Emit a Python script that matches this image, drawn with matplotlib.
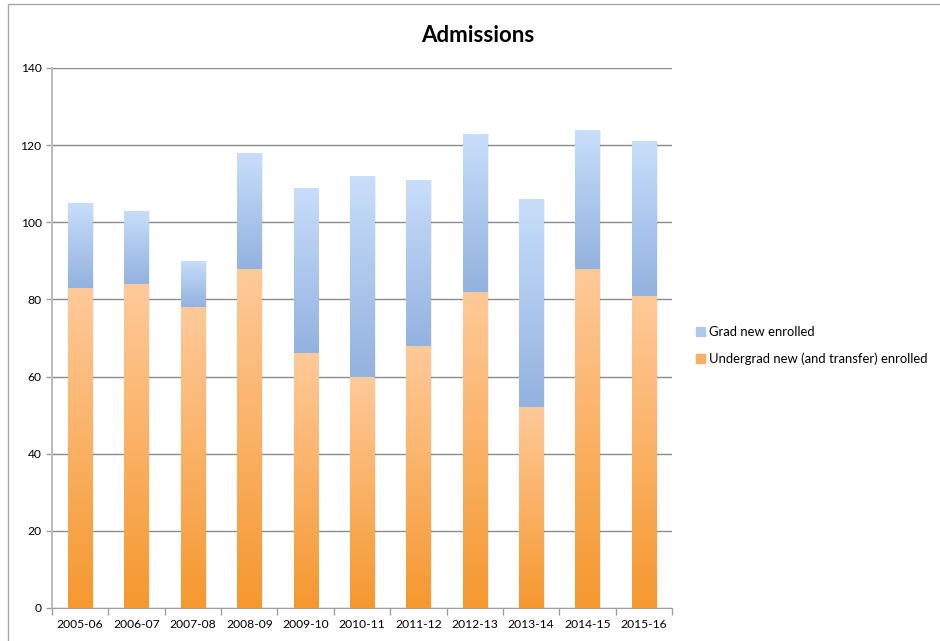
import matplotlib
matplotlib.use("Agg")
import matplotlib.pyplot as plt
import matplotlib.patches as mpatches
from matplotlib.colors import LinearSegmentedColormap
import numpy as np

plt.rcParams['font.family'] = ['Lato', 'DejaVu Sans']

years = ['2005-06', '2006-07', '2007-08', '2008-09', '2009-10', '2010-11',
         '2011-12', '2012-13', '2013-14', '2014-15', '2015-16']
undergrad = [83, 84, 78, 88, 66, 60, 68, 82, 52, 88, 81]
totals = [105, 103, 90, 118, 109, 112, 111, 123, 106, 124, 121]
grad = [t - u for t, u in zip(totals, undergrad)]

orange_cmap = LinearSegmentedColormap.from_list('og', ['#F5982F', '#FFCA9A'])
blue_cmap = LinearSegmentedColormap.from_list('bl', ['#93B2DF', '#C8DEFB'])
grad_img = np.linspace(0, 1, 256).reshape(-1, 1)

fig = plt.figure(figsize=(9.4, 6.41), dpi=100)
ax = fig.add_axes([52 / 940, 1 - 608 / 641, 620 / 940, 540 / 641])

x = np.arange(len(years))
w = 0.43


def gradient_bar(xc, bottom, height, cmap):
    bar = ax.bar(xc, height, w, bottom=bottom, color='none', edgecolor='none', zorder=3)[0]
    im = ax.imshow(grad_img, cmap=cmap, origin='lower', aspect='auto',
                   extent=[xc - w / 2, xc + w / 2, bottom, bottom + height], zorder=3)
    im.set_clip_path(bar)
    # faint shadow
    ax.bar(xc + 0.03, height, w, bottom=bottom, color='#000000', alpha=0.06,
           edgecolor='none', zorder=2)


for i in range(len(years)):
    gradient_bar(x[i], 0, undergrad[i], orange_cmap)
    gradient_bar(x[i], undergrad[i], grad[i], blue_cmap)

ax.set_xlim(-0.5, len(years) - 0.5)
ax.set_ylim(0, 140)
ax.set_yticks(range(0, 141, 20))
ax.set_xticks(x)
ax.set_xticklabels(years, fontsize=8.7)
ax.tick_params(axis='y', labelsize=8.7, length=4, color='#A0A0A0', width=1)
ax.tick_params(axis='x', length=0, pad=8)
ax.set_xticks(np.arange(-0.5, len(years), 1), minor=True)
ax.tick_params(axis='x', which='minor', length=5, color='#A0A0A0', width=1)
ax.grid(axis='y', color='#8C8C8C', linewidth=1, zorder=1)
ax.set_axisbelow(True)
for s in ['top', 'right']:
    ax.spines[s].set_visible(False)
ax.spines['left'].set_color('#BDBDBD')
ax.spines['left'].set_linewidth(1.5)
ax.spines['bottom'].set_color('#A0A0A0')

fig.text(478 / 940, 1 - 36 / 641, 'Admissions', ha='center', va='center',
         fontsize=16, fontweight='bold')

handles = [mpatches.Patch(color='#AFC9EE', label='Grad new enrolled'),
           mpatches.Patch(color='#FBAE66', label='Undergrad new (and transfer) enrolled')]
fig.legend(handles=handles, loc='upper left', bbox_to_anchor=(696 / 940, 1 - 326 / 641),
           frameon=False, fontsize=9.4, handlelength=0.7, handleheight=0.7,
           handletextpad=0.3, labelspacing=1.1, borderaxespad=0, borderpad=0)

fig.patches.append(mpatches.Rectangle((8 / 940, -0.01), 1, 1 - 4 / 641 + 0.01,
                                      transform=fig.transFigure, fill=False,
                                      edgecolor='#A8A8A8', linewidth=1))

fig.savefig('out.png', dpi=100)
